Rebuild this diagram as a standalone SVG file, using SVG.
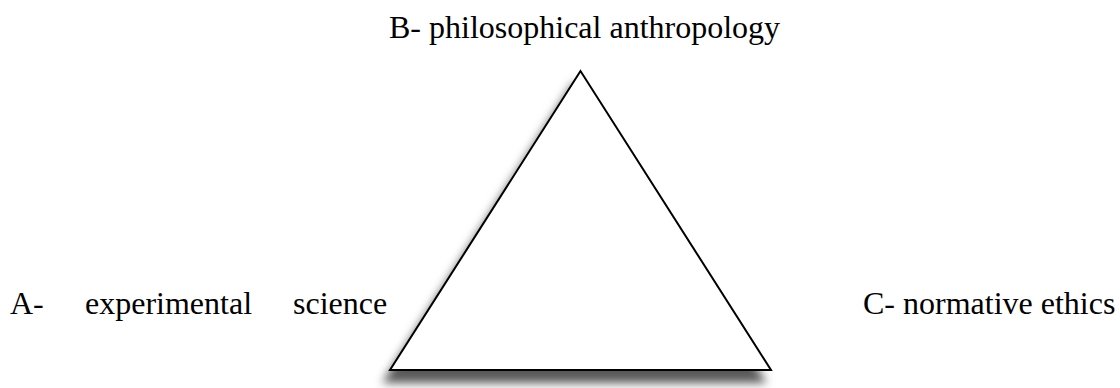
<svg xmlns="http://www.w3.org/2000/svg" width="1120" height="388" viewBox="0 0 1120 388">
<style>
text{font-family:"Liberation Serif","Times New Roman",serif;font-size:32px;fill:#000}
.tri{fill:#fff;stroke:#000;stroke-width:2;stroke-linejoin:miter}
</style>
<defs>
<filter id="sh" x="-20%" y="-20%" width="140%" height="140%">
<feDropShadow dx="-6" dy="12" stdDeviation="5" flood-color="#000" flood-opacity="0.65"/>
</filter>
</defs>
<rect width="1120" height="388" fill="#fff"/>
<g id="triangle">
<polygon class="tri" points="580.5,71 390,370 771,370" filter="url(#sh)"/>
</g>
<g id="connectors"></g>
<g id="nodeB"><text x="389" y="38">B- philosophical anthropology</text></g>
<g id="nodeA"><text x="10" y="314">A-</text><text x="85" y="314">experimental</text><text x="293" y="314">science</text></g>
<g id="nodeC"><text x="863" y="314">C- normative ethics</text></g>
</svg>
